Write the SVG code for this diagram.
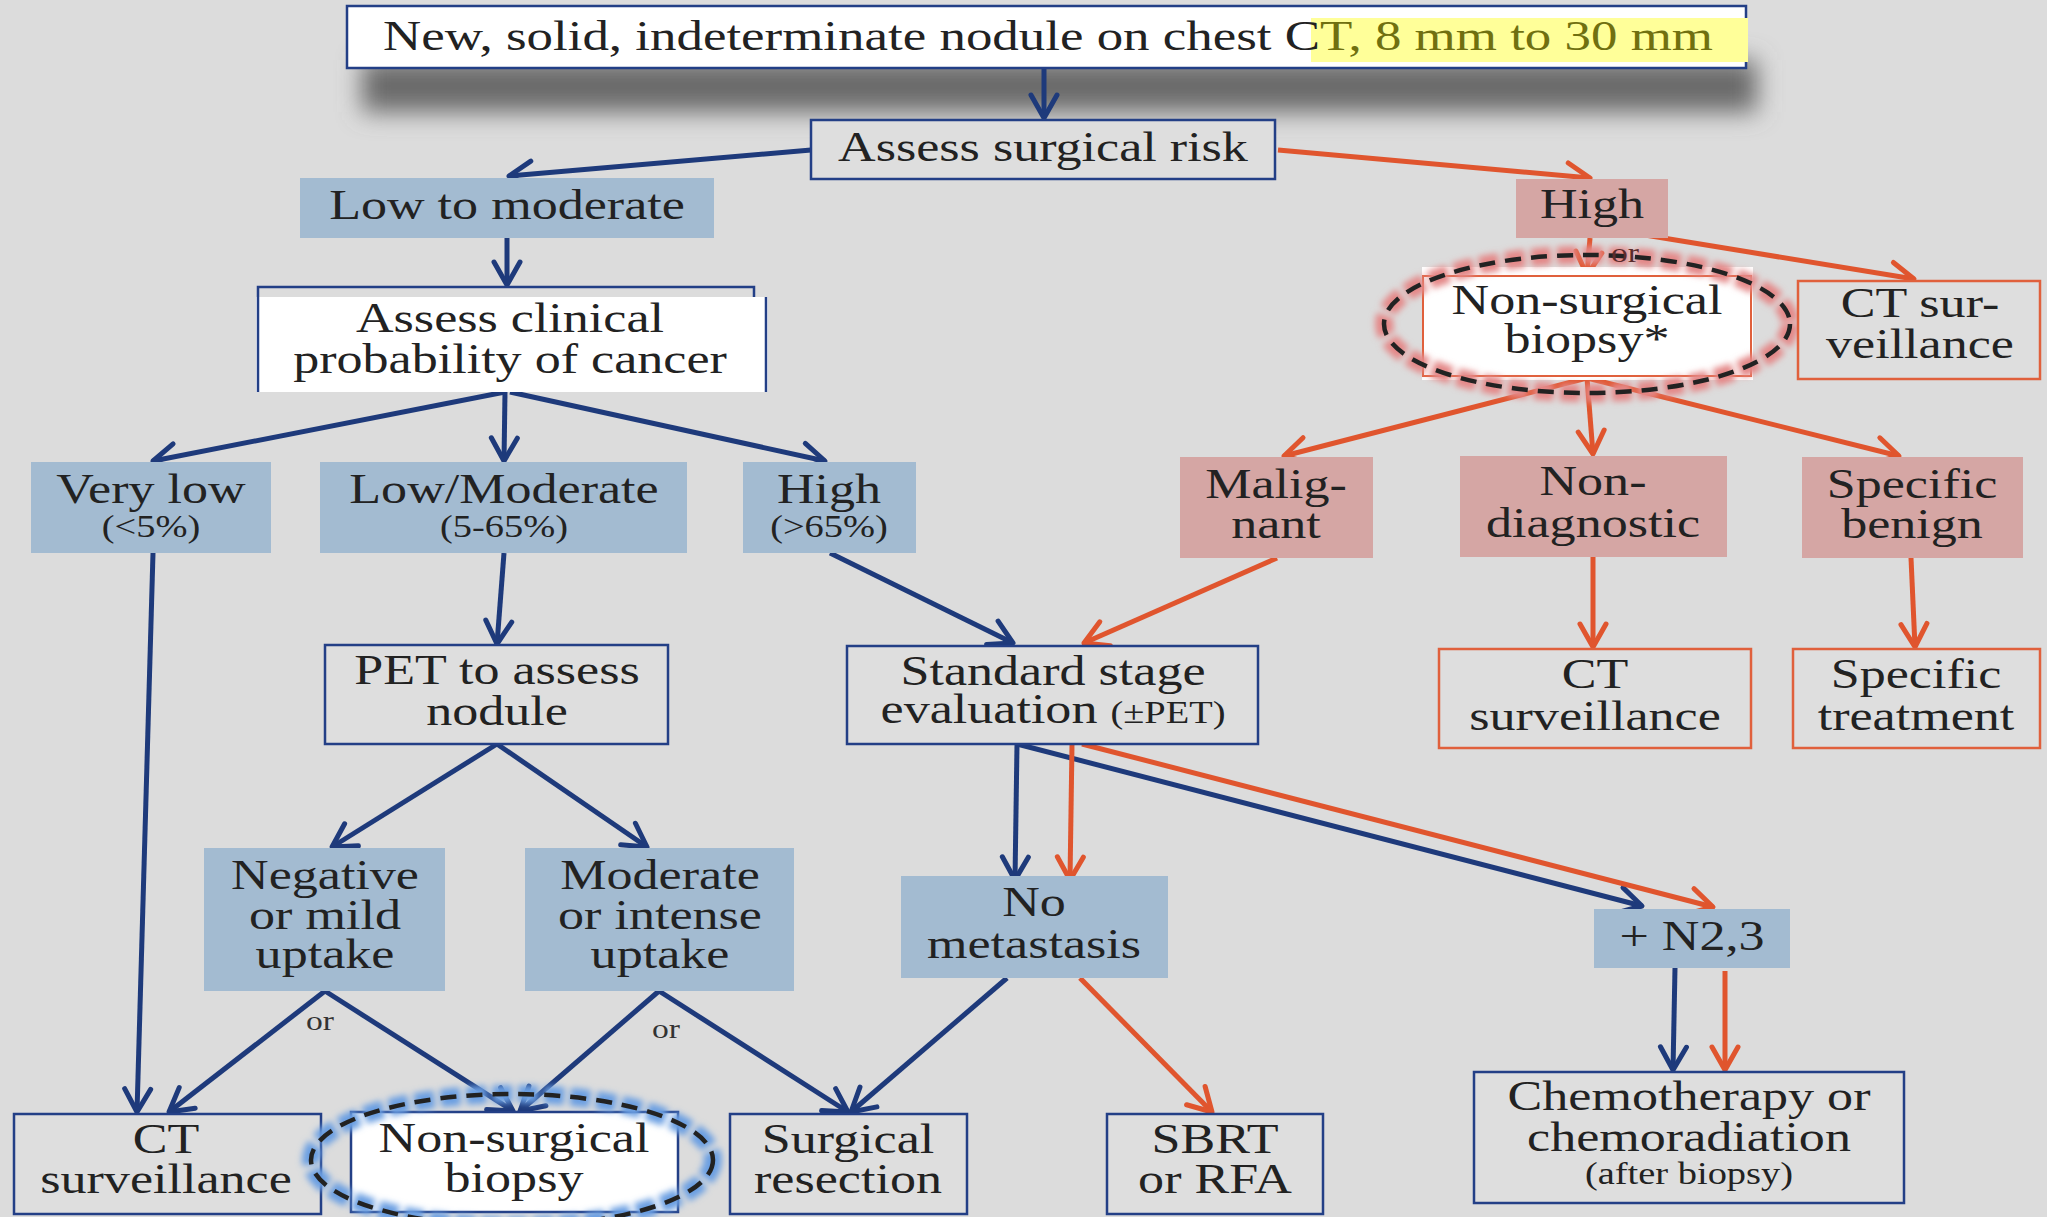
<svg xmlns="http://www.w3.org/2000/svg" width="2047" height="1217" viewBox="0 0 2047 1217">
<defs>
<style>
.t{font-family:"Liberation Serif","Times New Roman",serif;font-size:42px;fill:#222;text-anchor:middle}
.s{font-size:31px}
.o{font-family:"Liberation Serif","Times New Roman",serif;font-size:28px;fill:#333;text-anchor:middle}
.bl{fill:#a3bbd1}
.pk{fill:#d5a6a4}
.nv{fill:#dedede;stroke:#233f86;stroke-width:2.5}
.rd{fill:#dedede;stroke:#e0603c;stroke-width:2.5}
.cn{stroke:#1e3a7b;stroke-width:5;fill:none;marker-end:url(#an)}
.cr{stroke:#e0552e;stroke-width:5;fill:none;marker-end:url(#ar)}
.dash{fill:none;stroke:#222;stroke-width:4.5;stroke-dasharray:16 10}
</style>
<marker id="an" markerUnits="userSpaceOnUse" markerWidth="36" markerHeight="36" viewBox="0 0 36 36" refX="31" refY="18" orient="auto">
<path d="M8,5 L31,18 L8,31" fill="none" stroke="#1e3a7b" stroke-width="5" stroke-linecap="round" stroke-linejoin="round"/>
</marker>
<marker id="ar" markerUnits="userSpaceOnUse" markerWidth="36" markerHeight="36" viewBox="0 0 36 36" refX="31" refY="18" orient="auto">
<path d="M8,5 L31,18 L8,31" fill="none" stroke="#e0552e" stroke-width="5" stroke-linecap="round" stroke-linejoin="round"/>
</marker>
<filter id="blur" x="-10%" y="-100%" width="120%" height="300%"><feGaussianBlur stdDeviation="12"/></filter>
<filter id="glow" x="-20%" y="-40%" width="140%" height="180%"><feGaussianBlur stdDeviation="3"/></filter>
</defs>
<rect width="2047" height="1217" fill="#dcdcdc"/>
<rect x="362" y="60" width="1395" height="52" fill="#6a6a6a" filter="url(#blur)"/>

<g id="connectors">
<line class="cn" x1="1044" y1="68" x2="1044" y2="118"/>
<line class="cn" x1="811" y1="150" x2="509" y2="176"/>
<line class="cn" x1="507" y1="238" x2="507" y2="285"/>
<line class="cn" x1="505" y1="392" x2="153" y2="461"/>
<line class="cn" x1="505" y1="392" x2="504" y2="461"/>
<line class="cn" x1="510" y1="392" x2="825" y2="461"/>
<line class="cn" x1="153" y1="553" x2="137" y2="1112"/>
<line class="cn" x1="504" y1="553" x2="497" y2="644"/>
<line class="cn" x1="830" y1="553" x2="1013" y2="643"/>
<line class="cn" x1="497" y1="744" x2="332" y2="847"/>
<line class="cn" x1="497" y1="744" x2="647" y2="847"/>
<line class="cn" x1="325" y1="991" x2="169" y2="1112"/>
<line class="cn" x1="325" y1="991" x2="513" y2="1111"/>
<line class="cn" x1="659" y1="991" x2="520" y2="1111"/>
<line class="cn" x1="659" y1="991" x2="848" y2="1112"/>
<line class="cn" x1="1007" y1="978" x2="851" y2="1112"/>
<line class="cn" x1="1017" y1="744" x2="1015" y2="880"/>
<line class="cn" x1="1017" y1="744" x2="1642" y2="906"/>
<line class="cn" x1="1675" y1="968" x2="1673" y2="1070"/>
<line class="cr" x1="1278" y1="150" x2="1590" y2="178"/>
<line class="cr" x1="1590" y1="238" x2="1587" y2="275"/>
<line class="cr" x1="1602" y1="228" x2="1914" y2="279"/>
<line class="cr" x1="1587" y1="378" x2="1284" y2="456"/>
<line class="cr" x1="1587" y1="378" x2="1593" y2="454"/>
<line class="cr" x1="1587" y1="378" x2="1899" y2="456"/>
<line class="cr" x1="1277" y1="558" x2="1084" y2="643"/>
<line class="cr" x1="1593" y1="557" x2="1593" y2="647"/>
<line class="cr" x1="1911" y1="558" x2="1915" y2="647"/>
<line class="cr" x1="1072" y1="744" x2="1070" y2="880"/>
<line class="cr" x1="1082" y1="744" x2="1713" y2="907"/>
<line class="cr" x1="1725" y1="971" x2="1725" y2="1070"/>
<line class="cr" x1="1080" y1="978" x2="1212" y2="1112"/>
</g>

<g id="n_top">
<rect x="347" y="6" width="1399" height="62" fill="#fff" stroke="#233f86" stroke-width="2.5"/>
<rect x="1311" y="18" width="437" height="44" fill="#ffff99"/>
<text class="t" transform="matrix(1.26 0 0 1 1048 0)"><tspan x="0" y="50">New, solid, indeterminate nodule on chest C<tspan fill="#707010">T, 8 mm to 30 mm</tspan></tspan></text>
</g>

<g id="n_surgrisk">
<rect class="nv" x="811" y="120" width="464" height="59"/>
<text class="t" transform="matrix(1.24 0 0 1 1043 0)"><tspan x="0" y="161">Assess surgical risk</tspan></text>
</g>

<g id="n_lowmod">
<rect class="bl" x="300" y="178" width="414" height="60"/>
<text class="t" transform="matrix(1.24 0 0 1 507 0)"><tspan x="0" y="219">Low to moderate</tspan></text>
</g>

<g id="n_high">
<rect class="pk" x="1516" y="179" width="152" height="59"/>
<text class="t" transform="matrix(1.24 0 0 1 1592 0)"><tspan x="0" y="218">High</tspan></text>
</g>

<g id="n_clinical">
<rect x="256" y="297" width="512" height="95" fill="#fff"/>
<path d="M258,392 V287 H754 V297 M766,297 V392" fill="none" stroke="#233f86" stroke-width="2.5"/>
<text class="t" transform="matrix(1.24 0 0 1 510 0)"><tspan x="0" y="332">Assess clinical</tspan><tspan x="0" y="373">probability of cancer</tspan></text>
</g>

<g id="n_verylow">
<rect class="bl" x="31" y="462" width="240" height="91"/>
<text class="t" transform="matrix(1.24 0 0 1 151 0)"><tspan x="0" y="503">Very low</tspan><tspan class="s" x="0" y="537">(&lt;5%)</tspan></text>
</g>

<g id="n_lowmodprob">
<rect class="bl" x="320" y="462" width="367" height="91"/>
<text class="t" transform="matrix(1.24 0 0 1 504 0)"><tspan x="0" y="503">Low/Moderate</tspan><tspan class="s" x="0" y="537">(5-65%)</tspan></text>
</g>

<g id="n_highprob">
<rect class="bl" x="743" y="462" width="173" height="91"/>
<text class="t" transform="matrix(1.24 0 0 1 829 0)"><tspan x="0" y="503">High</tspan><tspan class="s" x="0" y="537">(&gt;65%)</tspan></text>
</g>

<g id="n_biopsy1">
<rect x="1422" y="267" width="331" height="113" fill="#fff"/>
<rect x="1423" y="276" width="328" height="100" fill="none" stroke="#e0603c" stroke-width="2"/>
<text class="t" transform="matrix(1.24 0 0 1 1587 0)"><tspan x="0" y="314">Non-surgical</tspan><tspan x="0" y="353">biopsy*</tspan></text>
<ellipse cx="1587" cy="324" rx="203" ry="69" fill="none" stroke="#e48888" stroke-width="18" stroke-dasharray="20 6" filter="url(#glow)"/>
<ellipse class="dash" cx="1587" cy="324" rx="203" ry="69"/>
<text class="o" transform="matrix(1.2 0 0 1 1625 0)" style="fill:#5b2b2b"><tspan x="0" y="262">or</tspan></text>
</g>

<g id="n_ctsurv1">
<rect class="rd" x="1798" y="281" width="242" height="98"/>
<text class="t" transform="matrix(1.24 0 0 1 1920 0)"><tspan x="0" y="317">CT sur-</tspan><tspan x="0" y="358">veillance</tspan></text>
</g>

<g id="n_malig">
<rect class="pk" x="1180" y="457" width="193" height="101"/>
<text class="t" transform="matrix(1.24 0 0 1 1276 0)"><tspan x="0" y="498">Malig-</tspan><tspan x="0" y="538">nant</tspan></text>
</g>

<g id="n_nondiag">
<rect class="pk" x="1460" y="456" width="267" height="101"/>
<text class="t" transform="matrix(1.24 0 0 1 1593 0)"><tspan x="0" y="495">Non-</tspan><tspan x="0" y="537">diagnostic</tspan></text>
</g>

<g id="n_benign">
<rect class="pk" x="1802" y="457" width="221" height="101"/>
<text class="t" transform="matrix(1.24 0 0 1 1912 0)"><tspan x="0" y="498">Specific</tspan><tspan x="0" y="538">benign</tspan></text>
</g>

<g id="n_ctsurv2">
<rect class="rd" x="1439" y="649" width="312" height="99"/>
<text class="t" transform="matrix(1.24 0 0 1 1595 0)"><tspan x="0" y="688">CT</tspan><tspan x="0" y="730">surveillance</tspan></text>
</g>

<g id="n_spectreat">
<rect class="rd" x="1793" y="649" width="247" height="99"/>
<text class="t" transform="matrix(1.24 0 0 1 1916 0)"><tspan x="0" y="688">Specific</tspan><tspan x="0" y="730">treatment</tspan></text>
</g>

<g id="n_pet">
<rect class="nv" x="325" y="645" width="343" height="99"/>
<text class="t" transform="matrix(1.24 0 0 1 497 0)"><tspan x="0" y="684">PET to assess</tspan><tspan x="0" y="725">nodule</tspan></text>
</g>

<g id="n_stage">
<rect class="nv" x="847" y="646" width="411" height="98"/>
<text class="t" transform="matrix(1.24 0 0 1 1053 0)"><tspan x="0" y="685">Standard stage</tspan><tspan x="0" y="723">evaluation <tspan class="s">(±PET)</tspan></tspan></text>
</g>

<g id="n_neg">
<rect class="bl" x="204" y="848" width="241" height="143"/>
<text class="t" transform="matrix(1.24 0 0 1 325 0)"><tspan x="0" y="889">Negative</tspan><tspan x="0" y="929">or mild</tspan><tspan x="0" y="968">uptake</tspan></text>
</g>

<g id="n_modint">
<rect class="bl" x="525" y="848" width="269" height="143"/>
<text class="t" transform="matrix(1.24 0 0 1 660 0)"><tspan x="0" y="889">Moderate</tspan><tspan x="0" y="929">or intense</tspan><tspan x="0" y="968">uptake</tspan></text>
</g>

<g id="n_nomet">
<rect class="bl" x="901" y="876" width="267" height="102"/>
<text class="t" transform="matrix(1.24 0 0 1 1034 0)"><tspan x="0" y="916">No</tspan><tspan x="0" y="958">metastasis</tspan></text>
</g>

<g id="n_n23">
<rect class="bl" x="1594" y="909" width="196" height="59"/>
<text class="t" transform="matrix(1.24 0 0 1 1692 0)"><tspan x="0" y="950">+ N2,3</tspan></text>
</g>

<g id="n_chemo">
<rect class="nv" x="1474" y="1072" width="430" height="131"/>
<text class="t" transform="matrix(1.24 0 0 1 1689 0)"><tspan x="0" y="1110">Chemotherapy or</tspan><tspan x="0" y="1151">chemoradiation</tspan><tspan class="s" x="0" y="1184">(after biopsy)</tspan></text>
</g>

<g id="n_ctsurv3">
<rect class="nv" x="14" y="1114" width="307" height="100"/>
<text class="t" transform="matrix(1.24 0 0 1 166 0)"><tspan x="0" y="1153">CT</tspan><tspan x="0" y="1193">surveillance</tspan></text>
</g>

<g id="n_biopsy2">
<rect x="351" y="1112" width="327" height="100" fill="#fff" stroke="#233f86" stroke-width="2.5"/>
<text class="t" transform="matrix(1.24 0 0 1 514 0)"><tspan x="0" y="1152">Non-surgical</tspan><tspan x="0" y="1192">biopsy</tspan></text>
<ellipse cx="512" cy="1160" rx="201" ry="66" fill="none" stroke="#6a9fe2" stroke-width="18" stroke-dasharray="20 6" filter="url(#glow)"/>
<ellipse class="dash" cx="512" cy="1160" rx="201" ry="66"/>
</g>

<g id="n_resect">
<rect class="nv" x="730" y="1114" width="237" height="100"/>
<text class="t" transform="matrix(1.24 0 0 1 848 0)"><tspan x="0" y="1153">Surgical</tspan><tspan x="0" y="1193">resection</tspan></text>
</g>

<g id="n_sbrt">
<rect class="nv" x="1107" y="1114" width="216" height="100"/>
<text class="t" transform="matrix(1.24 0 0 1 1215 0)"><tspan x="0" y="1153">SBRT</tspan><tspan x="0" y="1193">or RFA</tspan></text>
</g>

<g id="labels">
<text class="o" transform="matrix(1.2 0 0 1 320 0)"><tspan x="0" y="1030">or</tspan></text>
<text class="o" transform="matrix(1.2 0 0 1 666 0)"><tspan x="0" y="1038">or</tspan></text>
</g>
</svg>
